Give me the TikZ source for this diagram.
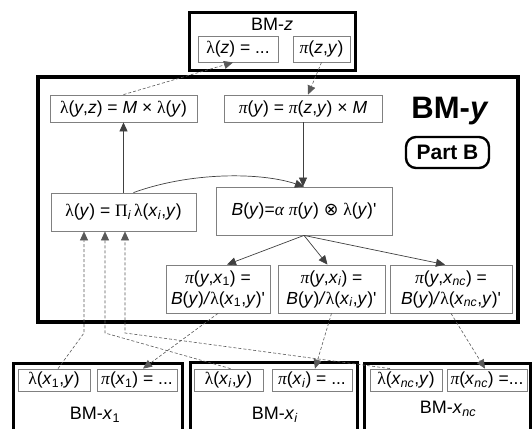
\documentclass[tikz,border=0pt]{standalone}
\usepackage{fontspec}
\setmainfont{Liberation Sans}
\newfontfamily\grkfont{Liberation Serif}
\newfontfamily\symfont{DejaVu Sans}
\usetikzlibrary{arrows.meta,calc}

\newcommand{\iv}[1]{\textit{#1}}
\newcommand{\sbs}[1]{\textsubscript{#1}}
\newcommand{\glam}{{\grkfont λ}}
\newcommand{\gpi}{{\grkfont\itshape π}}
\newcommand{\galpha}{{\grkfont\itshape α}}
\newcommand{\gPi}{{\grkfont Π}}
\newcommand{\otim}{{\symfont ⊗}}
\newcommand{\tq}{\textquotesingle}

\begin{document}
\begin{tikzpicture}[x=1pt, y=-1pt,
  bm/.style={draw, line width=3pt, inner sep=0pt},
  eq/.style={draw=black!50, line width=0.8pt, inner sep=0pt, align=center,
             font=\fontsize{17.5}{21}\selectfont},
  ttl/.style={inner sep=0pt, font=\fontsize{18}{20}\selectfont},
  arr/.style={draw=black!75, line width=0.7pt, -{Triangle[length=9pt,width=8pt]}},
  darr/.style={draw=black!65, line width=0.6pt, dash pattern=on 3pt off 2pt,
               -{Triangle[length=9pt,width=8pt]}}
]
\useasboundingbox (0,0) rectangle (532,428);

\node[bm, minimum width=166pt, minimum height=57pt] (bmz) at (272,41.5) {};
\node[ttl] (bmzt) at (272,24) {BM-\iv{z}};
\node[eq, minimum width=80pt, minimum height=26pt] (lz) at (238,49) {\glam(\iv{z}) = ...};
\node[eq, minimum width=57pt, minimum height=26pt] (pzy) at (321.5,49) {\gpi(\iv{z},\iv{y})};

\node[bm, line width=3.5pt, minimum width=480pt, minimum height=245pt] (bmy) at (278,199.5) {};
\node[inner sep=0pt, font=\fontsize{31}{32}\selectfont\bfseries] (bmyt) at (450,111) {BM-\iv{y}};
\node[draw, line width=2.4pt, rounded corners=10pt, minimum width=83pt, minimum height=31pt,
      inner sep=0pt, font=\fontsize{21}{22}\selectfont\bfseries] (partb) at (447.5,152.5) {Part B};

\node[eq, minimum width=147pt, minimum height=27pt] (lyz) at (123.5,108.5)
  {\glam(\iv{y},\iv{z}) = \iv{M} × \glam(\iv{y})};
\node[eq, minimum width=158pt, minimum height=27pt] (py) at (303,108.5)
  {\gpi(\iv{y}) = \gpi(\iv{z},\iv{y}) × \iv{M}};
\node[eq, minimum width=145pt, minimum height=38pt] (ly) at (123.5,212)
  {\glam(\iv{y}) = \gPi\sbs{\iv{i}}\,\glam(\iv{x}\sbs{\iv{i}},\iv{y})};
\node[eq, minimum width=176pt, minimum height=48pt] (by) at (304,211)
  {\iv{B}(\iv{y})=\galpha\ \gpi(\iv{y}) \otim\ \glam(\iv{y})\tq};
\node[eq, minimum width=104pt, minimum height=48pt] (pyx1) at (218,289)
  {\gpi(\iv{y},\iv{x}\sbs{1}) =\\ \iv{B}(\iv{y})\iv{/}\glam(\iv{x}\sbs{1},\iv{y})\tq};
\node[eq, minimum width=107pt, minimum height=48pt] (pyxi) at (331.5,289)
  {\gpi(\iv{y},\iv{x}\sbs{\iv{i}}) =\\ \iv{B}(\iv{y})\iv{/}\glam(\iv{x}\sbs{\iv{i}},\iv{y})\tq};
\node[eq, minimum width=122pt, minimum height=48pt] (pyxnc) at (451,289)
  {\gpi(\iv{y},\iv{x}\sbs{\iv{nc}}) =\\ \iv{B}(\iv{y})\iv{/}\glam(\iv{x}\sbs{\iv{nc}},\iv{y})\tq};

\node[bm, minimum width=169pt, minimum height=82pt] (bmx1) at (97.5,404) {};
\node[eq, minimum width=72pt, minimum height=22pt] (lx1) at (54,380) {\glam(\iv{x}\sbs{1},\iv{y})};
\node[eq, minimum width=80pt, minimum height=22pt] (px1) at (137,380) {\gpi(\iv{x}\sbs{1}) = ...};
\node[ttl] (bmx1t) at (95,415) {BM-\iv{x}\sbs{1}};

\node[bm, minimum width=167pt, minimum height=83pt] (bmxi) at (273.5,403.5) {};
\node[eq, minimum width=69pt, minimum height=22pt] (lxi) at (228.5,380) {\glam(\iv{x}\sbs{\iv{i}},\iv{y})};
\node[eq, minimum width=80pt, minimum height=22pt] (pxi) at (312,380) {\gpi(\iv{x}\sbs{\iv{i}}) = ...};
\node[ttl] (bmxit) at (275,415) {BM-\iv{x}\sbs{\iv{i}}};

\node[bm, minimum width=166pt, minimum height=82pt] (bmxnc) at (447,404) {};
\node[eq, minimum width=72pt, minimum height=22pt] (lxnc) at (406,380) {\glam(\iv{x}\sbs{\iv{nc}},\iv{y})};
\node[eq, minimum width=80pt, minimum height=22pt] (pxnc) at (487,380) {\gpi(\iv{x}\sbs{\iv{nc}}) =...};
\node[ttl] (bmxnct) at (448,409) {BM-\iv{x}\sbs{\iv{nc}}};

\draw[arr] (ly.north) -- (lyz.south);
\draw[arr] (py.south) -- (py.south |- by.north);
\draw[arr] ([xshift=10pt]ly.north) .. controls (190,172) and (260,172) .. (by.north);
\draw[arr] (by.south) -- ([xshift=9pt]pyx1.north);
\draw[arr] (by.south) -- ([xshift=-4pt]pyxi.north);
\draw[arr] (by.south) -- ([xshift=-6pt]pyxnc.north);

\draw[darr] (lyz.north) -- ([xshift=-5pt]lz.south);
\draw[darr] (pzy.south) -- ([xshift=5pt]py.north);

\coordinate (b1) at (84,333);
\coordinate (b2) at (105,333);
\coordinate (b3) at (125,333);
\draw[darr] ([xshift=4pt]lx1.north) -- (b1) -- (b1 |- ly.south);
\draw[darr] ([xshift=2pt]lxi.north) -- (b2) -- (b2 |- ly.south);
\draw[darr] ([xshift=-16pt]lxnc.north) -- (b3) -- (b3 |- ly.south);

\draw[darr] (pyx1.south) -- ([xshift=6pt]px1.north);
\draw[darr] (pyxi.south) -- ([xshift=3pt]pxi.north);
\draw[darr] (pyxnc.south) -- ([xshift=-2pt]pxnc.north);
\end{tikzpicture}
\end{document}
